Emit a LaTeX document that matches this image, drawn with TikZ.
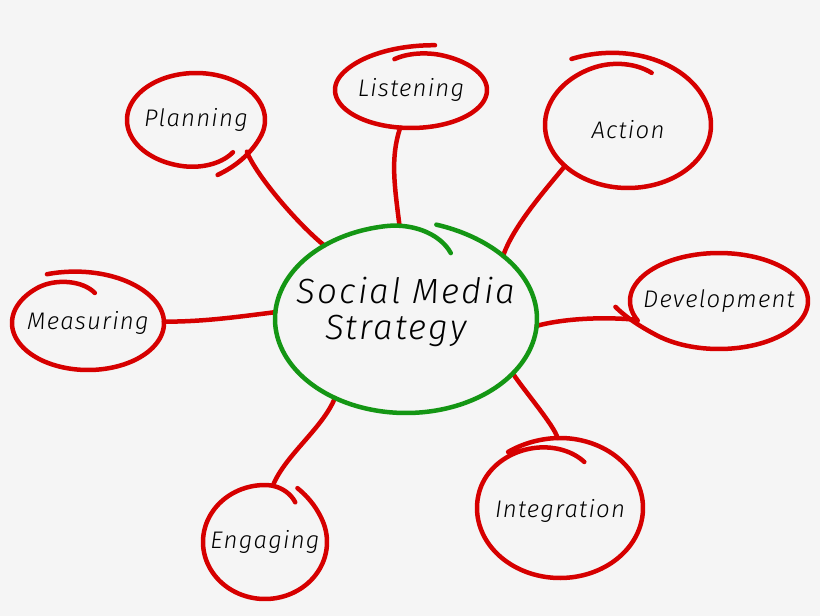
\documentclass[tikz,border=0pt]{standalone}
\usepackage{fontspec}
\newfontfamily\hand{Fira Sans Light Italic}[LetterSpace=5]
\newfontfamily\handbig{Fira Sans Light Italic}[LetterSpace=6]
\usetikzlibrary{shapes.geometric}
\definecolor{bg}{RGB}{245,245,245}
\definecolor{sred}{RGB}{214,0,0}
\definecolor{sgreen}{RGB}{20,150,20}
% hand-drawn loop: #1 style, #2 rx, #3 ry, #4 start angle, #5 end angle,
% #6 radial offset at start, #7 its reach (deg), #8 radial offset at end, #9 its reach
\newcommand\hloop[9]{%
  \draw[#1] plot[domain=#4:#5, samples=160, smooth, variable=\t]
   ({#2*(1+(#6)*pow(max(0,1-(\t-(#4))/(#7)),2)+(#8)*pow(max(0,1-((#5)-\t)/(#9)),2))*cos(\t)},
    {#3*(1+(#6)*pow(max(0,1-(\t-(#4))/(#7)),2)+(#8)*pow(max(0,1-((#5)-\t)/(#9)),2))*sin(\t)});}
\tikzset{
  bubble/.style={ellipse, inner sep=0pt, outer sep=0pt, draw=none},
  rl/.style={draw=sred, line width=4.5pt, line cap=round, line join=round},
  gl/.style={draw=sgreen, line width=4.5pt, line cap=round, line join=round},
  lbl/.style={font=\hand\fontsize{24}{28}\selectfont, text=black, inner sep=0pt},
  biglbl/.style={font=\handbig\fontsize{35}{36}\selectfont, text=black, align=center, inner sep=0pt},
}
\begin{document}
\begin{tikzpicture}[x=1pt,y=-1pt]
\fill[bg] (0,0) rectangle (820,616);
\useasboundingbox (0,0) rectangle (820,616);

% nodes
\node[bubble, minimum width=262pt, minimum height=188pt,
      label={[biglbl, yshift=7pt]center:{Social Media\\Strategy\hspace*{20pt}}}] (smm) at (406,319) {};
\node[bubble, minimum width=138pt, minimum height=94pt,
      label={[lbl]center:Planning}] (plan) at (196,120) {};
\node[bubble, minimum width=152pt, minimum height=76pt,
      label={[lbl]center:Listening}] (lis) at (411,90) {};
\node[bubble, minimum width=166pt, minimum height=126pt,
      label={[lbl, yshift=-5pt]center:Action}] (act) at (628,125) {};
\node[bubble, minimum width=178pt, minimum height=96pt,
      label={[lbl]center:Development}] (dev) at (719,301) {};
\node[bubble, minimum width=152pt, minimum height=94pt,
      label={[lbl]center:Measuring}] (mea) at (88,323) {};
\node[bubble, minimum width=124pt, minimum height=114pt,
      label={[lbl]center:Engaging}] (eng) at (265,542) {};
\node[bubble, minimum width=166pt, minimum height=140pt,
      label={[lbl, yshift=-3pt]center:Integration}] (int) at (560,508) {};

% connectors
\draw[rl] (plan.-32) .. controls +(10,25) and +(-25,-20) .. (smm.138);
\draw[rl] (lis.-106) .. controls +(-10,30) and +(-5,-40) .. (smm.94);
\draw[rl] (act.-147) .. controls +(-18,22) and +(10,-30) .. (smm.33);
\draw[rl] (smm.-3) .. controls +(30,-8) and +(-30,-3) .. (dev.-167);
\draw[rl] (mea.1) .. controls +(40,0) and +(-40,5) .. (smm.177);
\draw[rl] (smm.-132) .. controls +(-12,30) and +(12,-30) .. (eng.82);
\draw[rl] (smm.-27) .. controls +(12,18) and +(-3,-12) .. (int.92);

% hand-drawn outlines
\hloop{gl, shift={(smm.center)}}{131}{94}{-77}{296}{0.03}{40}{-0.22}{35}
\hloop{rl, shift={(plan.center)}}{69}{47}{-308}{75}{-0.13}{50}{0.21}{55}
\hloop{rl, shift={(lis.center)}}{76}{38}{-105}{285}{-0.16}{40}{0.22}{80}
\hloop{rl, shift={(act.center)}}{83}{63}{-123}{289}{0.25}{120}{-0.125}{45}
\hloop{rl, shift={(dev.center)}}{89}{48}{156}{534}{0}{30}{0.17}{40}
\hloop{rl, shift={(mea.center)}}{76}{47}{-117.5}{278}{0.17}{90}{-0.355}{50}
\hloop{rl, shift={(eng.center)}}{62}{57}{-61}{305}{0.08}{40}{-0.15}{35}
\hloop{rl, shift={(int.center)}}{83}{70}{-128}{294}{0.016}{30}{-0.28}{100}
\end{tikzpicture}
\end{document}
